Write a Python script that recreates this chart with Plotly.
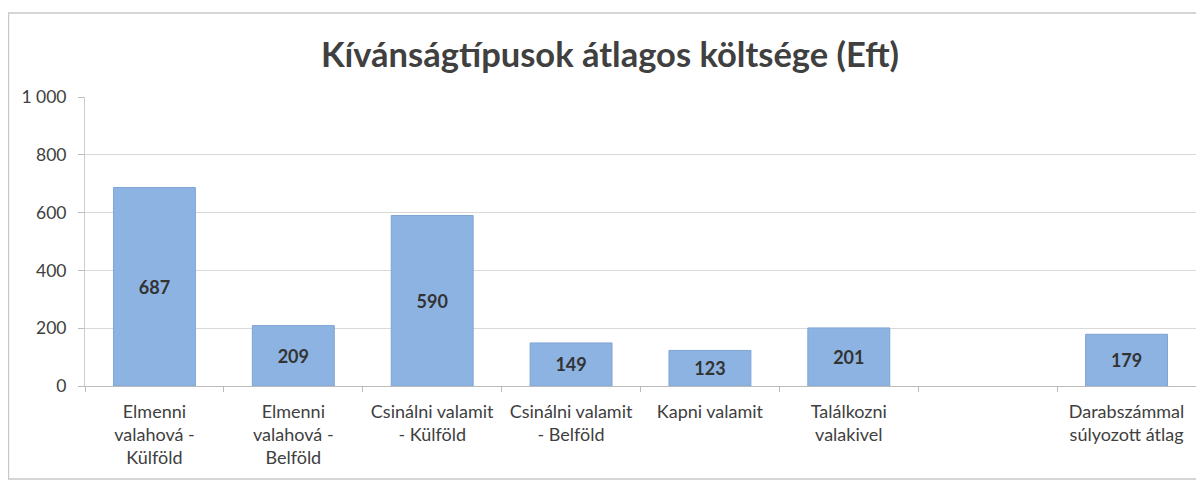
import plotly.graph_objects as go

categories = [
    "Elmenni<br>valahová -<br>Külföld",
    "Elmenni<br>valahová -<br>Belföld",
    "Csinálni valamit<br>- Külföld",
    "Csinálni valamit<br>- Belföld",
    "Kapni valamit",
    "Találkozni<br>valakivel",
    " ",
    "Darabszámmal<br>súlyozott átlag",
]
values = [687, 209, 590, 149, 123, 201, None, 179]
labels = ["687", "209", "590", "149", "123", "201", "", "179"]
y_ticks = [0, 200, 400, 600, 800, 1000]
y_ticktext = ["0", "200", "400", "600", "800", "1 000"]

# page body has an 8px default margin; compensate in the figure margins
fig = go.Figure(
    go.Bar(
        x=categories,
        y=values,
        text=labels,
        textposition="inside",
        insidetextanchor="middle",
        textfont=dict(family="Lato, Open Sans, sans-serif", size=18, color="#333333", weight="bold"),
        marker=dict(color="#8DB3E2", line=dict(color="#7FA5D6", width=1)),
        hoverinfo="skip",
    )
)

fig.update_layout(
    width=1204,
    height=481,
    paper_bgcolor="white",
    plot_bgcolor="white",
    margin=dict(l=77, r=16, t=89, b=103, autoexpand=False),
    bargap=0.41,
    showlegend=False,
    title=dict(
        text="<b>Kívánságtípusok átlagos költsége (Eft)</b>",
        x=0.5,
        xanchor="center",
        y=1 - 47 / 481,
        yanchor="middle",
        font=dict(family="Lato, Open Sans, sans-serif", size=34.5, color="#404040"),
    ),
    font=dict(family="Lato, Open Sans, sans-serif", color="#404040"),
    xaxis=dict(
        type="category",
        automargin=False,
        tickson="boundaries",
        ticks="outside",
        ticklen=5,
        tickcolor="#BBBBBB",
        showline=True,
        linecolor="#BBBBBB",
        linewidth=1,
        showgrid=False,
        tickfont=dict(size=18, color="#404040"),
        ticklabelstandoff=9,
    ),
    yaxis=dict(
        automargin=False,
        range=[0, 1000],
        tickvals=y_ticks,
        ticktext=y_ticktext,
        ticks="outside",
        ticklen=6,
        tickcolor="#BBBBBB",
        showline=True,
        linecolor="#CCCCCC",
        linewidth=1,
        showgrid=True,
        gridcolor="#D9D9D9",
        gridwidth=1,
        zeroline=False,
        tickfont=dict(size=17.5, color="#404040"),
        ticklabelstandoff=8,
    ),
    shapes=[
        dict(type="rect", xref="paper", yref="paper", x0=-0.0689, x1=1.05, y0=-0.3218, y1=1.2907,
             line=dict(color="#C8C8C8", width=1.5), layer="below"),
    ],
)

fig.write_html("out.html")
